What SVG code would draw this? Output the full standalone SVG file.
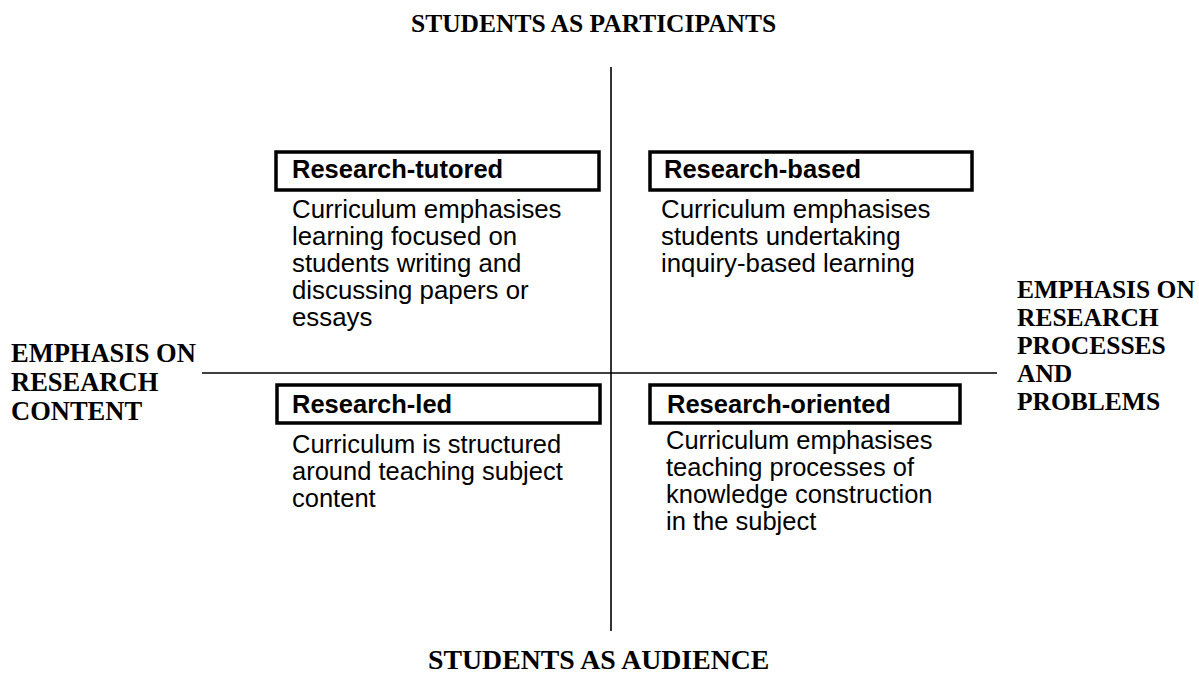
<svg xmlns="http://www.w3.org/2000/svg" width="1199" height="686" viewBox="0 0 1199 686">
<style>
.axis{font-family:"Liberation Serif","Times New Roman",serif;font-weight:bold;font-size:25.5px;fill:#000}
.head{font-family:"Liberation Sans",Arial,sans-serif;font-weight:bold;font-size:25.5px;fill:#000}
.body{font-family:"Liberation Sans",Arial,sans-serif;font-size:25.5px;fill:#000}
.bodyT{font-family:"Liberation Sans",Arial,sans-serif;font-size:25.8px;fill:#000}
.box{fill:none;stroke:#000;stroke-width:3.5}
.ln{stroke:#000;stroke-width:1.6;fill:none}
</style>
<rect width="1199" height="686" fill="#fff"/>
<g id="connectors">
<line class="ln" x1="611" y1="67" x2="611" y2="631"/>
<line class="ln" x1="202" y1="373" x2="997" y2="373"/>
</g>
<g id="top-label"><text class="axis" x="411" y="32">STUDENTS AS PARTICIPANTS</text></g>
<g id="bottom-label"><text class="axis" x="428" y="669" style="font-size:27.8px">STUDENTS AS AUDIENCE</text></g>
<g id="left-label">
<text class="axis" x="11" y="362" style="font-size:26.5px">EMPHASIS ON</text>
<text class="axis" x="11" y="391" style="font-size:26.5px">RESEARCH</text>
<text class="axis" x="11" y="420" style="font-size:26.5px">CONTENT</text>
</g>
<g id="right-label">
<text class="axis" x="1017" y="298">EMPHASIS ON</text>
<text class="axis" x="1017" y="326">RESEARCH</text>
<text class="axis" x="1017" y="354">PROCESSES</text>
<text class="axis" x="1017" y="382">AND</text>
<text class="axis" x="1017" y="410">PROBLEMS</text>
</g>
<g id="research-tutored">
<rect class="box" x="276" y="152" width="323" height="38"/>
<text class="head" x="292" y="178">Research-tutored</text>
<text class="bodyT" x="292" y="218">Curriculum emphasises</text>
<text class="bodyT" x="292" y="245">learning focused on</text>
<text class="bodyT" x="292" y="272">students writing and</text>
<text class="bodyT" x="292" y="299">discussing papers or</text>
<text class="bodyT" x="292" y="326">essays</text>
</g>
<g id="research-based">
<rect class="box" x="650" y="152" width="322" height="38"/>
<text class="head" x="664" y="178">Research-based</text>
<text class="bodyT" x="661" y="218">Curriculum emphasises</text>
<text class="bodyT" x="661" y="245">students undertaking</text>
<text class="bodyT" x="661" y="272">inquiry-based learning</text>
</g>
<g id="research-led">
<rect class="box" x="277" y="385" width="323" height="38"/>
<text class="head" x="292" y="413">Research-led</text>
<text class="body" x="292" y="453">Curriculum is structured</text>
<text class="body" x="292" y="480">around teaching subject</text>
<text class="body" x="292" y="507">content</text>
</g>
<g id="research-oriented">
<rect class="box" x="650" y="385" width="310" height="38"/>
<text class="head" x="667" y="413">Research-oriented</text>
<text class="body" x="666" y="449">Curriculum emphasises</text>
<text class="body" x="666" y="476">teaching processes of</text>
<text class="body" x="666" y="503">knowledge construction</text>
<text class="body" x="666" y="530">in the subject</text>
</g>
</svg>
